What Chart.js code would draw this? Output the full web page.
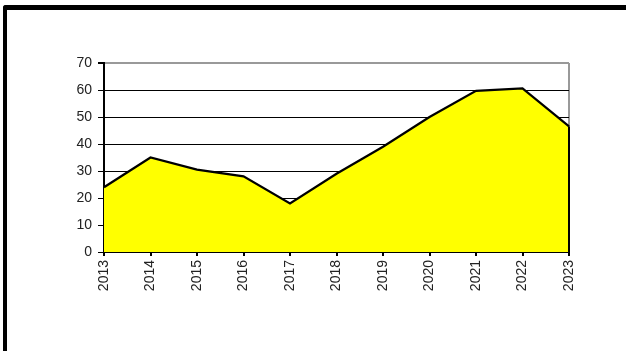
<!DOCTYPE html>
<html>
<head>
<meta charset="utf-8">
<script src="https://cdn.jsdelivr.net/npm/chart.js@4"></script>
<style>
  html, body { margin: 0; padding: 0; background: #fff; overflow: hidden; }
  #wrap { position: relative; width: 626px; height: 351px; }
  #frame {
    position: absolute; left: 3px; top: 5px; width: 640px; height: 360px;
    border-top: 5px solid #000; border-left: 4px solid #000;
    border-top-left-radius: 3px; pointer-events: none;
  }
  canvas { position: absolute; left: 0; top: 0; }
</style>
</head>
<body>
<div id="wrap">
  <canvas id="myChart" width="626" height="351"></canvas>
  <div id="frame"></div>
</div>
<script>
var years = ['2013', '2014', '2015', '2016', '2017', '2018', '2019', '2020', '2021', '2022', '2023'];
var values = [24, 35, 30.5, 28, 18, 29, 39, 50, 59.7, 60.6, 46.5];
var yMax = 70;
var yStep = 10;

// closes the right-hand edge of the filled area down to the x axis
var areaEdge = {
    id: 'areaEdge',
    afterDatasetsDraw: function(chart) {
        var ctx = chart.ctx;
        var x = chart.scales.x.getPixelForValue(years.length - 1);
        var yTop = chart.scales.y.getPixelForValue(values[values.length - 1]);
        var yBot = chart.scales.y.getPixelForValue(0);
        ctx.save();
        ctx.strokeStyle = '#000';
        ctx.lineWidth = 2;
        ctx.beginPath();
        ctx.moveTo(x, yTop);
        ctx.lineTo(x, yBot);
        ctx.stroke();
        ctx.restore();
    }
};

var labelFont = { family: 'Liberation Sans, Arial, sans-serif', size: 14 };

var config = {
    type: 'line',
    data: {
        labels: years,
        datasets: [{
            data: values,
            fill: 'origin',
            backgroundColor: '#ffff00',
            borderColor: '#000',
            borderWidth: 2.2,
            tension: 0,
            pointRadius: 0
        }]
    },
    options: {
        responsive: false,
        animation: false,
        events: [],
        layout: {
            padding: { left: 0, top: 63, right: 57, bottom: 49 }
        },
        plugins: {
            legend: { display: false },
            tooltip: { enabled: false }
        },
        scales: {
            x: {
                offset: false,
                afterFit: function(scale) { scale.height = 50; },
                border: { color: '#000', width: 2 },
                grid: {
                    drawOnChartArea: true,
                    color: function(c) { return c.index === years.length - 1 ? '#999' : 'rgba(0,0,0,0)'; },
                    tickColor: '#000',
                    tickLength: 4,
                    lineWidth: 2
                },
                ticks: {
                    autoSkip: false,
                    minRotation: 90,
                    maxRotation: 90,
                    padding: 4,
                    color: '#222',
                    font: labelFont
                }
            },
            y: {
                min: 0,
                max: yMax,
                afterFit: function(scale) { scale.width = 104; },
                border: { color: '#000', width: 2 },
                grid: {
                    color: function(c) { return c.tick && c.tick.value === yMax ? '#999' : '#000'; },
                    lineWidth: function(c) { return c.tick && c.tick.value === yMax ? 2 : 1; },
                    tickColor: '#000',
                    tickLength: 6
                },
                ticks: {
                    stepSize: yStep,
                    padding: 6,
                    color: '#222',
                    font: labelFont
                }
            }
        }
    },
    plugins: [areaEdge]
};

var myChart = new Chart(document.getElementById('myChart').getContext('2d'), config);
</script>
</body>
</html>
